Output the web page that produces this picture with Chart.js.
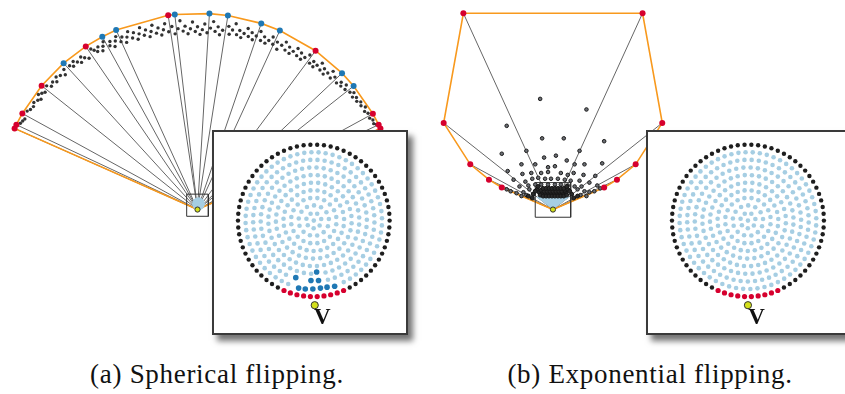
<!DOCTYPE html>
<html>
<head>
<meta charset="utf-8">
<script src="https://cdn.jsdelivr.net/npm/chart.js@4/dist/chart.umd.min.js"></script>
<style>
  html, body { margin: 0; padding: 0; background: #fff; }
  #stage { position: relative; width: 845px; height: 394px; overflow: hidden; }
  #main { position: absolute; left: 0; top: 0; }
  .inset { position: absolute; border: 2px solid #3a3a3a; background: #fff;
           box-shadow: 5px 6px 6px rgba(0,0,0,0.55); }
  .inset canvas { display: block; }
  .cap { position: absolute; top: 361px; font-family: "Liberation Serif", "DejaVu Serif", serif;
         font-size: 27px; letter-spacing: 0.7px; line-height: 1; color: #111; white-space: nowrap;
         transform: translateX(-50%); }
</style>
</head>
<body>
<div id="stage">
  <canvas id="main" width="845" height="345"></canvas>
  <div class="inset" id="boxA" style="left:212px; top:130px; width:192px; height:201px;">
    <canvas id="insetA" width="192" height="201"></canvas>
  </div>
  <div class="inset" id="boxB" style="left:646px; top:130px; width:198px; height:201px;">
    <canvas id="insetB" width="198" height="201"></canvas>
  </div>
  <div class="cap" style="left:217px;">(a) Spherical flipping.</div>
  <div class="cap" style="left:650px;">(b) Exponential flipping.</div>
</div>
<script>
// ---------- palette ----------
const RED = '#d6002e', BLUE = '#1f78b4', LIGHT = '#a6cee3', DOT = '#333333',
      ORANGE = '#f8991d', SPOKE = '#666666', FRAME = '#333333', VIEW = '#d4e01a';

// ---------- panel (a): spherical flipping (page pixels, y down) ----------
const viewA = [194, 211];
const hullRadiusA = 204;
// directions (degrees) of the hull vertices and of the other visible points
const hullRedDegA  = [155.6, 154.4, 150.7, 140.9, 123.8, 98.4, 54.0, 29.2, 25.6, 24.4];
const hullBlueDegA = [131.8, 118.3, 113.9, 96.5, 86.6, 81.3, 71.5, 65.8, 44.0, 39.0];
// flipped points: [direction in degrees, distance from the viewpoint]
const flippedA = [
  [153.5,201],[152.6,200],[151.8,199],[149.4,201],[148.5,199],[147.3,198],[146.2,200],[145.0,198],[144.2,196],[143.5,201],
  [142.6,199],[141.8,197],[140.0,200],[139.2,196],[138.0,198],[137.1,195],[136.2,199],[135.0,197],[133.8,194],[133.0,199],
  [131.0,198],[130.2,195],[129.4,199],[128.5,196],[127.6,193],[126.8,198],[126.0,195],[125.0,192],[123.0,199],[122.4,196],
  [121.7,193],[120.9,197],[120.2,191],[119.5,195],[118.8,199],[117.6,192],[117.0,196],[116.3,189],[115.5,194],[114.8,198],
  [114.0,191],[113.2,195],[112.5,188],[111.8,193],[111.0,198],[110.3,190],[109.5,195],[108.8,187],[108.0,192],[107.3,198],
  [106.6,189],[105.8,194],[105.0,186],[104.3,191],[103.6,197],[102.8,188],[102.0,193],[101.3,185],[100.5,190],[99.8,196],
  [99.0,187],[97.8,192],[97.1,184],[96.0,189],[95.2,197],[94.5,186],[93.8,191],[93.0,183],[92.2,188],[91.5,195],
  [90.7,185],[90.0,190],[89.2,182],[88.5,187],[87.8,193],[87.0,184],[86.0,189],[85.2,196],[84.5,186],[83.7,191],
  [83.0,183],[82.2,188],[80.5,193],[80.0,185],[79.2,190],[78.5,197],[77.7,186],[77.0,191],[76.2,184],[75.5,189],
  [74.7,195],[74.0,187],[73.2,192],[72.5,185],[71.7,190],[70.8,196],[70.0,187],[69.2,192],[68.4,186],[67.6,190],
  [66.8,195],[66.0,188],[65.0,192],[64.2,185],[63.4,191],[62.6,196],[61.8,188],[61.0,193],[60.2,187],[59.4,191],
  [58.6,196],[57.8,189],[57.0,194],[56.2,188],[55.4,192],[54.6,197],[53.2,190],[52.5,194],[51.7,189],[51.0,193],
  [50.2,198],[49.4,191],[48.6,195],[47.8,190],[47.0,194],[46.2,199],[45.4,192],[44.6,196],[43.0,193],[42.2,197],
  [41.4,194],[40.6,199],[39.8,195],[38.2,197],[37.4,200],[36.6,196],[35.8,199],[34.8,197],[34.0,200],[33.0,198],
  [32.0,201],[31.0,198],[30.0,200],[28.5,199],[27.6,201],[26.5,200],[26.0,202]
];
const zoomBoxA = [[183,195],[205,195],[205,218],[183,218],[183,195]];
const discA = [195, 205];

// ---------- panel (b): exponential flipping ----------
const viewB = [555, 211];
const hullRedB = [[503,188],[490,180],[471,164],[444,121],[464,7],[646,7],[666,121],[639,164],[620,180],[607,188]];
const flippedB = [
  [542,96],[589,107],[508,124],[544,137],[566,137],[607,140],[503,153],[528,150],[582,150],[546,157],
  [558,155],[569,160],[523,164],[537,164],[550,167],[557,166],[577,164],[587,164],[605,163],[509,171],
  [524,174],[533,173],[543,173],[550,172],[563,173],[570,175],[576,173],[586,175],[598,176],[515,180],
  [527,182],[534,179],[540,178],[547,179],[553,179],[560,179],[567,180],[573,181],[582,181],[592,183],
  [521,187],[530,186],[537,185],[543,185],[550,185],[557,185],[563,185],[570,186],[577,187],[584,187],
  [512,192],[518,194],[525,193],[531,190],[580,190],[587,192],[592,193],[597,192],[603,189],[508,190],
  [523,197],[528,196],[583,196],[589,197],[600,186]
];
const denseB = [
  [541,193],[544,194],[547,195],[550,195],[553,195],[556,195],[559,195],[562,195],[565,194],[568,193],
  [543,191],[546,192],[549,192],[552,192],[555,192],[558,192],[561,192],[564,192],[567,191],[545,189],
  [548,189],[551,189],[554,189],[557,189],[560,189],[563,189],[566,189],[542,196],[545,197],[548,197],
  [551,197],[554,197],[557,197],[560,197],[563,197],[566,197],[569,196],[539,190],[570,190],[535,195],
  [574,195],[530,197],[580,197],[537,192],[572,192],[540,187],[569,187],[534,199],[576,199]
];
const zoomBoxB = [[537,183],[573,183],[573,219],[537,219],[537,183]];
const wedgeB = [[555,211],[538,198],[546,196],[555,195],[564,196],[572,198],[555,211]];

// ---------- insets: the point set around the viewpoint (pixels from disc centre, y up) ----------
const ringRadius = [80, 72, 64, 56, 48, 40, 32, 24, 16, 8, 0];
const ringCount  = [70, 60, 53, 46, 40, 33, 27, 20, 13, 7, 1];
const ringPhase  = [0, 2, 5, 1, 4, 7, 3, 9, 6, 12, 0];
const outerRedIdx = [48, 49, 50, 51, 52, 53, 54, 55, 56, 57];
const visibleBlueA = [[-19,-60],[3,-54],[-3,-63],[5,-63],[-16,-71],[-9,-72],[-1,-72],[7,-71],[14,-70],[22,-69]];
const viewInsetA = [1, -89], labelInsetA = [9, -103];
const viewInsetB = [0, -89], labelInsetB = [9, -103];

// ---------- helpers ----------
const xy = a => ({ x: a[0], y: a[1] });
const polar = (v, deg, r) => ({ x: v[0] + r * Math.cos(deg * Math.PI / 180), y: v[1] - r * Math.sin(deg * Math.PI / 180) });

function pointsSet(data, color, radius, extra) {
  return Object.assign({ type: 'scatter', data, pointRadius: radius, pointBackgroundColor: color,
    pointBorderWidth: 0, showLine: false }, extra || {});
}
function lineSet(data, color, width, extra) {
  return Object.assign({ type: 'scatter', data, showLine: true, borderColor: color, borderWidth: width,
    pointRadius: 0, fill: false, tension: 0 }, extra || {});
}

// ---------- main figure ----------
const layers = []; // bottom first

// spokes from the viewpoint
[...hullRedDegA, ...hullBlueDegA].forEach(d => layers.push(lineSet([xy(viewA), polar(viewA, d, hullRadiusA)], SPOKE, 1)));
hullRedB.forEach(p => layers.push(lineSet([xy(viewB), xy(p)], SPOKE, 1)));

// hull outlines
const hullDegA = [...hullRedDegA, ...hullBlueDegA].sort((a, b) => b - a);
layers.push(lineSet([xy(viewA), ...hullDegA.map(d => polar(viewA, d, hullRadiusA)), xy(viewA)], ORANGE, 1.6));
layers.push(lineSet([xy(viewB), ...hullRedB.map(xy), xy(viewB)], ORANGE, 1.6));

// zoom frames
layers.push(lineSet(zoomBoxA.map(xy), FRAME, 1));
layers.push(lineSet(zoomBoxB.map(xy), FRAME, 1));

// flipped points
layers.push(pointsSet(flippedA.map(p => polar(viewA, p[0], p[1])), DOT, 1.7));
layers.push(pointsSet(flippedB.map(xy), '#6a6d73', 1.8, { pointBorderColor: '#1c1c1c', pointBorderWidth: 1 }));
layers.push(lineSet(wedgeB.map(xy), 'rgba(0,0,0,0)', 0, { fill: 'shape', backgroundColor: LIGHT }));
layers.push(pointsSet(denseB.map(xy), '#2a2a2a', 2.0, { pointBorderColor: '#151515', pointBorderWidth: 1 }));

// the original point set near the viewpoint
layers.push(pointsSet([xy(discA)], LIGHT, 6.5));

// hull vertices and visible points
layers.push(pointsSet(hullBlueDegA.map(d => polar(viewA, d, hullRadiusA)), BLUE, 3));
layers.push(pointsSet(hullRedDegA.map(d => polar(viewA, d, hullRadiusA)), RED, 3));
layers.push(pointsSet(hullRedB.map(xy), RED, 3));

// viewpoints
layers.push(pointsSet([xy(viewA), xy(viewB)], VIEW, 2.6, { pointBorderColor: '#333', pointBorderWidth: 1 }));

const baseOpts = (xmin, xmax, ymin, ymax, reverse) => ({
  responsive: false, animation: false, events: [],
  layout: { padding: 0 },
  plugins: { legend: { display: false }, tooltip: { enabled: false }, title: { display: false } },
  scales: {
    x: { type: 'linear', min: xmin, max: xmax, display: false },
    y: { type: 'linear', min: ymin, max: ymax, reverse: !!reverse, display: false }
  }
});

new Chart(document.getElementById('main'), {
  type: 'scatter',
  data: { datasets: layers.slice().reverse() },
  options: baseOpts(0, 845, 0, 345, true)
});

// ---------- insets ----------
function ringPoints() {
  const out = [];
  ringRadius.forEach((r, i) => {
    for (let k = 0; k < ringCount[i]; k++) {
      const a = (ringPhase[i] + k * 360 / ringCount[i]) * Math.PI / 180;
      out.push({ ring: i, k, x: r * Math.cos(a), y: r * Math.sin(a) });
    }
  });
  return out;
}

const labelPlugin = {
  id: 'viewLabel',
  afterDatasetsDraw(chart, args, opts) {
    const { ctx, scales } = chart;
    ctx.save();
    ctx.font = 'bold 23px "Liberation Serif", "DejaVu Serif", serif';
    ctx.fillStyle = '#111';
    ctx.textAlign = 'center';
    ctx.textBaseline = 'middle';
    ctx.fillText(opts.text, scales.x.getPixelForValue(opts.at[0]), scales.y.getPixelForValue(opts.at[1]));
    ctx.restore();
  }
};

function makeInset(id, xmin, xmax, blue, view, label) {
  const pts = ringPoints();
  const outer = pts.filter(p => p.ring === 0);
  const black = outer.filter(p => !outerRedIdx.includes(p.k));
  const red = outer.filter(p => outerRedIdx.includes(p.k));
  const inner = pts.filter(p => p.ring > 0 &&
    !blue.some(b => Math.hypot(b[0] - p.x, b[1] - p.y) < 5));
  const sets = [
    pointsSet([xy(view)], VIEW, 3.6, { pointBorderColor: '#333', pointBorderWidth: 1 }),
    pointsSet(red, RED, 2.6),
    pointsSet(blue.map(xy), BLUE, 2.8),
    pointsSet(black, '#1e1e1e', 2.2),
    pointsSet(inner, LIGHT, 2.3)
  ];
  const opts = baseOpts(xmin, xmax, -113, 88, false);
  opts.plugins.viewLabel = { text: 'V', at: label };
  new Chart(document.getElementById(id), {
    type: 'scatter', data: { datasets: sets }, options: opts, plugins: [labelPlugin]
  });
}

makeInset('insetA', -100, 92, visibleBlueA, viewInsetA, labelInsetA);
makeInset('insetB', -100, 98, [], viewInsetB, labelInsetB);
</script>
</body>
</html>
